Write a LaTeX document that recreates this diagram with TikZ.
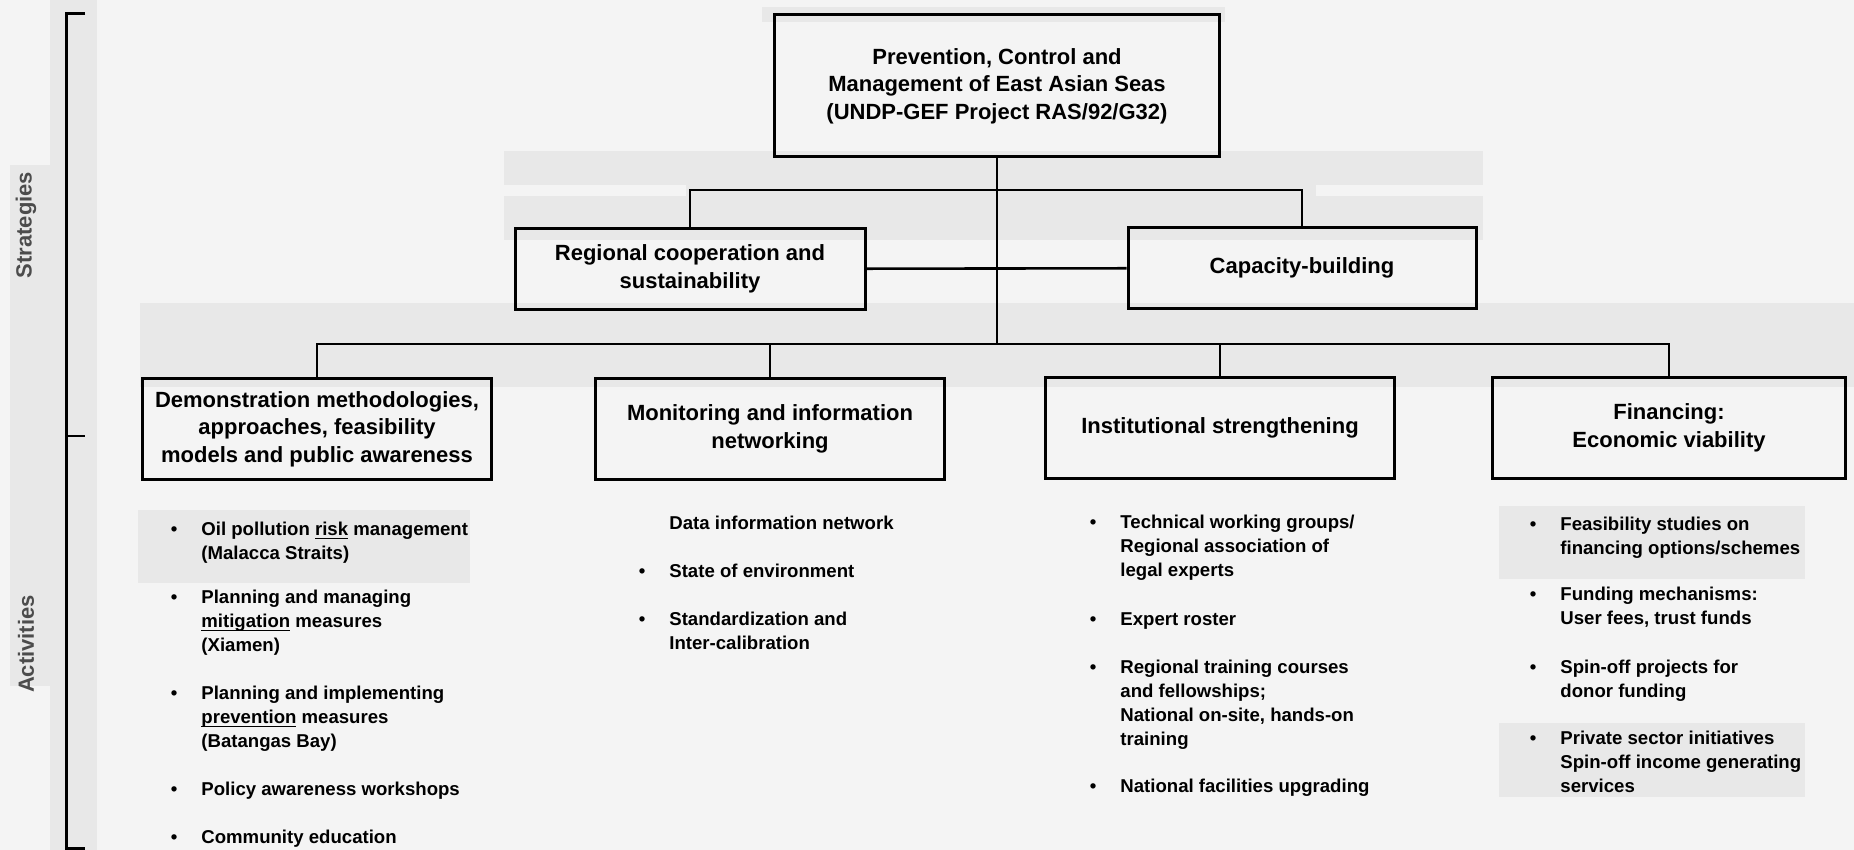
\documentclass[tikz,border=0pt]{standalone}
\usepackage{fontspec}
\setmainfont{Liberation Sans}
\usepackage{tikz}

\definecolor{paper}{gray}{0.955}
\definecolor{smudge}{gray}{0.91}
\definecolor{sideink}{gray}{0.3}
\newcommand{\headfont}{\fontsize{11}{13.8}\selectfont\bfseries}
\newcommand{\itemfont}{\fontsize{9.3}{12}\selectfont\bfseries}
\newcommand{\bul}{\strut\llap{\textbullet\hspace{12pt}}}
\newcommand{\uline}[1]{\underline{\smash{#1}}}

\begin{document}
\begin{tikzpicture}[x=0.5pt,y=-0.5pt]
  \tikzstyle{box}=[rectangle,draw,line width=1.5pt,align=center,font=\headfont,inner sep=0pt]
  \tikzstyle{link}=[draw,line width=1.3pt]
  \tikzstyle{entry}=[anchor=north west,inner sep=0pt,align=left,font=\itemfont]
  \tikzstyle{side}=[rotate=90,font=\fontsize{11}{13}\selectfont\bfseries,text=sideink]

  % paper and the grey of the scan
  \fill [paper] (0,0) rectangle (1854,850);
  \useasboundingbox (0,0) rectangle (1854,850);
  \fill [smudge] (50,0) rectangle (97,850);
  \fill [smudge] (10,165) rectangle (50,686);
  \fill [smudge] (762,7) rectangle (1225,22);
  \fill [smudge] (504,151) rectangle (1483,185);
  \fill [smudge] (686,185) rectangle (1316,196);
  \fill [smudge] (504,196) rectangle (1483,240);
  \fill [smudge] (140,303) rectangle (1854,387);
  \fill [smudge] (138,510) rectangle (470,583);
  \fill [smudge] (1499,506) rectangle (1805,579);
  \fill [smudge] (1499,723) rectangle (1805,797);

  % side bracket
  \draw [line width=1.5pt] (85,14) -| (66,848) -- (85,848);
  \draw [line width=1pt] (66,436) -- (85,436);
  \node [side] (strategies) at (26,225) {Strategies};
  \node [side] (activities) at (26,644) {Activities};

  % boxes
  \node [box,minimum width=222.5pt,minimum height=71pt] (project) at (997,86)
    {Prevention, Control and\\Management of East Asian Seas\\(UNDP-GEF Project RAS/92/G32)};
  \node [box,minimum width=175pt,minimum height=40.5pt] (regional) at (690,269)
    {Regional cooperation and\\sustainability};
  \node [box,minimum width=174pt,minimum height=40.5pt] (capacity) at (1302,268)
    {Capacity-building};
  \node [box,minimum width=174.5pt,minimum height=50.5pt] (demo) at (317,429)
    {Demonstration methodologies,\\approaches, feasibility\\models and public awareness};
  \node [box,minimum width=174.5pt,minimum height=50.5pt] (monitor) at (770,429)
    {Monitoring and information\\networking};
  \node [box,minimum width=174.5pt,minimum height=50.5pt] (inst) at (1220,428)
    {Institutional strengthening};
  \node [box,minimum width=176.5pt,minimum height=50.5pt] (finance) at (1669,428)
    {Financing:\\Economic viability};

  % connectors
  \coordinate (upbar) at (997,190);
  \coordinate (lowbar) at (997,344);
  \draw [link] (project) -- (lowbar);
  \draw [link] (regional) |- (upbar) -| (capacity);
  \draw [link] (regional) -- (capacity);
  \draw [link] (demo) |- (lowbar) -| (finance);
  \draw [link] (monitor) |- (lowbar);
  \draw [link] (inst) |- (lowbar);

  % activities
  \node [entry] (oil) at (201,518) {\bul Oil pollution \uline{risk} management\\(Malacca Straits)};
  \node [entry] (mitigation) at (201,586) {\bul Planning and managing\\\uline{mitigation} measures\\(Xiamen)};
  \node [entry] (prevention) at (201,682) {\bul Planning and implementing\\\uline{prevention} measures\\(Batangas Bay)};
  \node [entry] (policy) at (201,778) {\bul Policy awareness workshops};
  \node [entry] (community) at (201,826) {\bul Community education};

  \node [entry] (data) at (669,512) {\strut Data information network};
  \node [entry] (state) at (669,560) {\bul State of environment};
  \node [entry] (standard) at (669,608) {\bul Standardization and\\Inter-calibration};

  \node [entry] (groups) at (1120,511) {\bul Technical working groups/\\Regional association of\\legal experts};
  \node [entry] (roster) at (1120,608) {\bul Expert roster};
  \node [entry] (training) at (1120,656) {\bul Regional training courses\\and fellowships;\\National on-site, hands-on\\training};
  \node [entry] (facilities) at (1120,775) {\bul National facilities upgrading};

  \node [entry] (feasibility) at (1560,513) {\bul Feasibility studies on\\financing options/schemes};
  \node [entry] (funding) at (1560,583) {\bul Funding mechanisms:\\User fees, trust funds};
  \node [entry] (spinoff) at (1560,656) {\bul Spin-off projects for\\donor funding};
  \node [entry] (private) at (1560,727) {\bul Private sector initiatives\\Spin-off income generating\\services};
\end{tikzpicture}
\end{document}
